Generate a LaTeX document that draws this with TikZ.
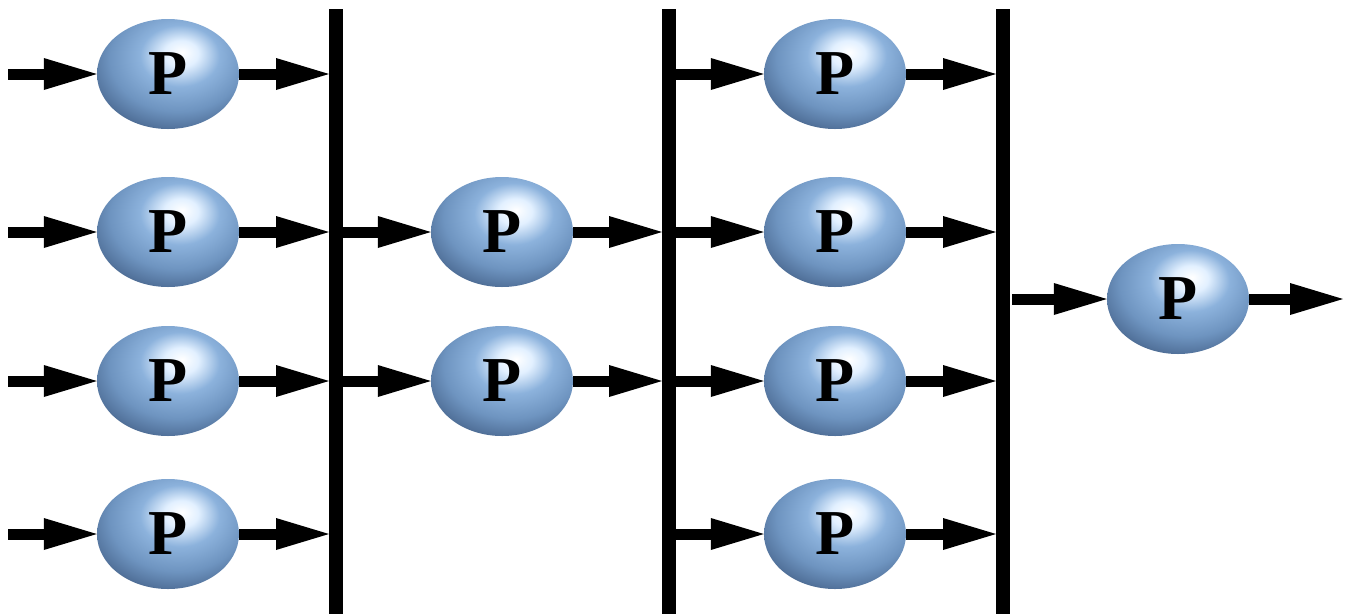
\documentclass[tikz,border=0pt]{standalone}
\usepackage{fontspec}
\setmainfont{Liberation Serif}
\usetikzlibrary{arrows.meta,shapes.geometric}
\definecolor{hl}{RGB}{226,240,255}
\definecolor{midb}{RGB}{140,178,220}
\definecolor{mid2}{RGB}{110,148,192}
\definecolor{mid3}{RGB}{82,114,155}
\definecolor{darkb}{RGB}{48,68,98}
\pgfdeclareradialshading{pball}{\pgfpoint{5bp}{10bp}}{color(0bp)=(white); color(6bp)=(hl); color(14bp)=(midb); color(24bp)=(mid2); color(31bp)=(mid3); color(37bp)=(darkb); color(80bp)=(darkb)}
\tikzset{
  pnode/.style={ellipse, minimum width=142pt, minimum height=110pt, inner sep=0pt, shading=pball,
    font=\fontsize{64}{64}\selectfont\bfseries, text=black},
  flow/.style={line width=11pt, -{Triangle[length=53pt,width=32pt,line width=0pt]}},
  barline/.style={line width=14pt}
}
\begin{document}
\begin{tikzpicture}[x=1pt,y=-1pt]
\useasboundingbox (0,0) rectangle (1349,614);
% bars
\coordinate (b1t) at (336,9); \coordinate (b1b) at (336,614);
\coordinate (b2t) at (669,9); \coordinate (b2b) at (669,614);
\coordinate (b3t) at (1003,9); \coordinate (b3b) at (1003,614);
\coordinate (b1l) at (329,0); \coordinate (b2l) at (662,0); \coordinate (b3l) at (996,0);
\draw[barline] (b1t) -- (b1b);
\draw[barline] (b2t) -- (b2b);
\draw[barline] (b3t) -- (b3b);
% balls
\node[pnode] (p11) at (168,74) {P};
\node[pnode] (p12) at (168,232) {P};
\node[pnode] (p13) at (168,381) {P};
\node[pnode] (p14) at (168,534) {P};
\node[pnode] (p22) at (502,232) {P};
\node[pnode] (p23) at (502,381) {P};
\node[pnode] (p31) at (835,74) {P};
\node[pnode] (p32) at (835,232) {P};
\node[pnode] (p33) at (835,381) {P};
\node[pnode] (p34) at (835,534) {P};
\node[pnode] (p4) at (1178,299) {P};
% input starts
\coordinate (in1) at (8,74); \coordinate (in2) at (8,232);
\coordinate (in3) at (8,381); \coordinate (in4) at (8,534);
\coordinate (in5) at (1012,299); \coordinate (out) at (1343,299);
% column 1
\foreach \i in {1,2,3,4}{
  \draw[flow] (in\i) -- (p1\i.west);
  \draw[flow] (p1\i.east) -- (p1\i.east -| b1l);
}
% column 2
\foreach \i in {2,3}{
  \draw[flow] (p2\i.west -| b1t) -- (p2\i.west);
  \draw[flow] (p2\i.east) -- (p2\i.east -| b2l);
}
% column 3
\foreach \i in {1,2,3,4}{
  \draw[flow] (p3\i.west -| b2t) -- (p3\i.west);
  \draw[flow] (p3\i.east) -- (p3\i.east -| b3l);
}
% column 4
\draw[flow] (in5) -- (p4.west);
\draw[flow] (p4.east) -- (out);
\end{tikzpicture}
\end{document}
